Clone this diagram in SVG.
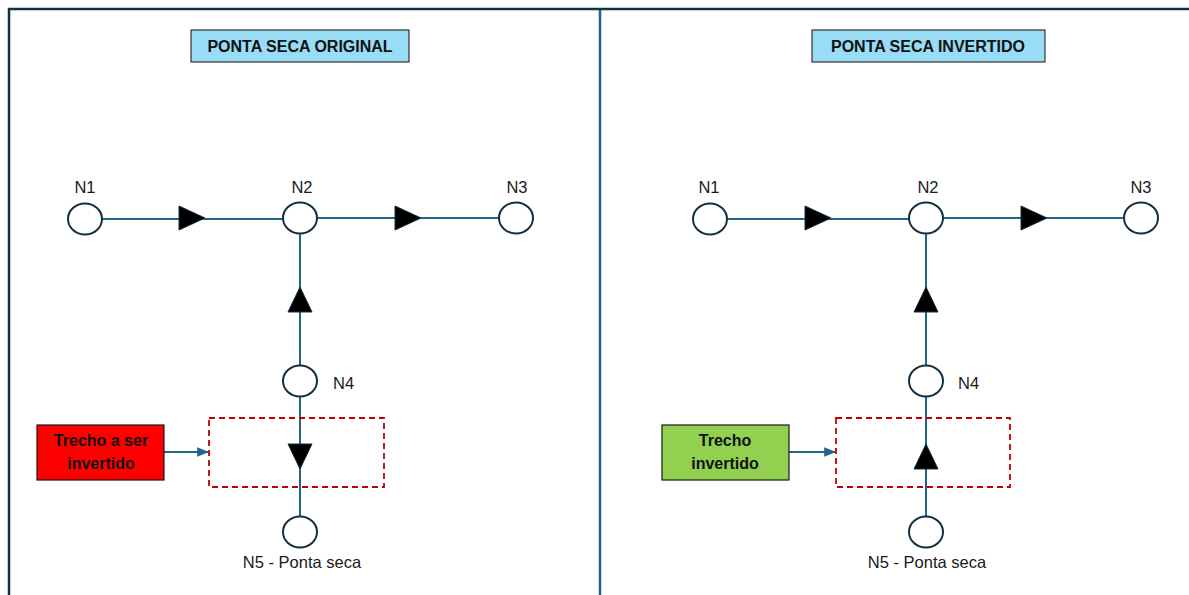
<svg xmlns="http://www.w3.org/2000/svg" width="1189" height="595" viewBox="0 0 1189 595">
  <style>
    .frame { fill: none; stroke: #12303d; stroke-width: 2.5; }
    .divider { stroke: #1d6388; stroke-width: 2.5; }
    .pipe { stroke: #1f6688; stroke-width: 2; fill: none; }
    .node { fill: #ffffff; stroke: #12303d; stroke-width: 2; }
    .flow { fill: #000000; stroke: #12303d; stroke-width: 1; }
    .title { fill: #98dcf6; stroke: #333333; stroke-width: 1.2; }
    .zone { fill: none; stroke: #c00000; stroke-width: 1.8; stroke-dasharray: 6 4; }
    .label { font-family: "Liberation Sans", Arial, sans-serif; font-size: 16.5px; fill: #1a1a1a; }
    .bold { font-family: "Liberation Sans", Arial, sans-serif; font-size: 16px; font-weight: bold; fill: #111111; }
  </style>
  <defs>
    <marker id="tip" viewBox="0 0 10 10" refX="9" refY="5" markerWidth="6" markerHeight="6" orient="auto">
      <path d="M0,1 L10,5 L0,9 z" fill="#1f6688"/>
    </marker>
    <path id="tri-right" d="M-13,-12 L13,0 L-13,12 z"/>
    <path id="tri-up" d="M-12,12 L0,-13 L12,12 z"/>
    <path id="tri-down" d="M-12,-12 L0,13 L12,-12 z"/>
  </defs>

  <rect width="1189" height="595" fill="#ffffff"/>

  <!-- outer frame and panel divider -->
  <g id="frame">
    <path class="frame" d="M9,600 L9,9 L1195,9"/>
    <line class="divider" x1="600" y1="10" x2="600" y2="600"/>
  </g>

  <!-- ===== left panel ===== -->
  <g id="connectors-left">
    <line class="pipe" x1="102" y1="219" x2="283" y2="219"/>
    <line class="pipe" x1="317" y1="218" x2="499" y2="218"/>
    <line class="pipe" x1="300" y1="233" x2="300" y2="366"/>
    <line class="pipe" x1="300" y1="396" x2="300" y2="517"/>
    <use href="#tri-right" class="flow" x="192" y="218"/>
    <use href="#tri-right" class="flow" x="408" y="218"/>
    <use href="#tri-up" class="flow" x="300" y="300"/>
    <use href="#tri-down" class="flow" x="300" y="456"/>
    <line class="pipe" x1="164" y1="452" x2="208" y2="452" marker-end="url(#tip)"/>
  </g>

  <g id="title-left">
    <rect class="title" x="191" y="30" width="218" height="32"/>
    <text class="bold" x="300" y="52" text-anchor="middle">PONTA SECA ORIGINAL</text>
  </g>
  <g id="n1-left">
    <ellipse class="node" cx="85" cy="219" rx="17" ry="15.5"/>
    <text class="label" x="85" y="193" text-anchor="middle">N1</text>
  </g>
  <g id="n2-left">
    <ellipse class="node" cx="300" cy="218" rx="17" ry="15.5"/>
    <text class="label" x="302" y="193" text-anchor="middle">N2</text>
  </g>
  <g id="n3-left">
    <ellipse class="node" cx="516" cy="218" rx="17" ry="15.5"/>
    <text class="label" x="517" y="193" text-anchor="middle">N3</text>
  </g>
  <g id="n4-left">
    <ellipse class="node" cx="300" cy="381" rx="17" ry="15.5"/>
    <text class="label" x="333" y="389">N4</text>
  </g>
  <g id="n5-left">
    <ellipse class="node" cx="300" cy="532" rx="17" ry="15.5"/>
    <text class="label" x="302" y="568" text-anchor="middle">N5 - Ponta seca</text>
  </g>
  <g id="zone-left">
    <rect class="zone" x="209" y="418" width="175" height="69"/>
  </g>
  <g id="note-left">
    <rect x="37" y="425" width="127" height="55" fill="#ff0000" stroke="#1a1a1a" stroke-width="1.2"/>
    <text class="bold" x="101" y="446" text-anchor="middle">Trecho a ser</text>
    <text class="bold" x="101" y="469" text-anchor="middle">invertido</text>
  </g>

  <!-- ===== right panel ===== -->
  <g id="connectors-right">
    <line class="pipe" x1="727" y1="219" x2="909" y2="219"/>
    <line class="pipe" x1="943" y1="218" x2="1124" y2="218"/>
    <line class="pipe" x1="926" y1="233" x2="926" y2="366"/>
    <line class="pipe" x1="926" y1="396" x2="926" y2="517"/>
    <use href="#tri-right" class="flow" x="818" y="218"/>
    <use href="#tri-right" class="flow" x="1034" y="218"/>
    <use href="#tri-up" class="flow" x="926" y="300"/>
    <use href="#tri-up" class="flow" x="926" y="457"/>
    <line class="pipe" x1="789" y1="452" x2="835" y2="452" marker-end="url(#tip)"/>
  </g>

  <g id="title-right">
    <rect class="title" x="812" y="30" width="233" height="32"/>
    <text class="bold" x="928" y="52" text-anchor="middle">PONTA SECA INVERTIDO</text>
  </g>
  <g id="n1-right">
    <ellipse class="node" cx="710" cy="219" rx="17" ry="15.5"/>
    <text class="label" x="709" y="193" text-anchor="middle">N1</text>
  </g>
  <g id="n2-right">
    <ellipse class="node" cx="926" cy="218" rx="17" ry="15.5"/>
    <text class="label" x="928" y="193" text-anchor="middle">N2</text>
  </g>
  <g id="n3-right">
    <ellipse class="node" cx="1141" cy="218" rx="17" ry="15.5"/>
    <text class="label" x="1141" y="193" text-anchor="middle">N3</text>
  </g>
  <g id="n4-right">
    <ellipse class="node" cx="926" cy="381" rx="17" ry="15.5"/>
    <text class="label" x="958" y="389">N4</text>
  </g>
  <g id="n5-right">
    <ellipse class="node" cx="926" cy="532" rx="17" ry="15.5"/>
    <text class="label" x="927" y="568" text-anchor="middle">N5 - Ponta seca</text>
  </g>
  <g id="zone-right">
    <rect class="zone" x="836" y="418" width="174" height="69"/>
  </g>
  <g id="note-right">
    <rect x="662" y="425" width="127" height="55" fill="#92d050" stroke="#1a1a1a" stroke-width="1.2"/>
    <text class="bold" x="725" y="446" text-anchor="middle">Trecho</text>
    <text class="bold" x="725" y="469" text-anchor="middle">invertido</text>
  </g>
</svg>
